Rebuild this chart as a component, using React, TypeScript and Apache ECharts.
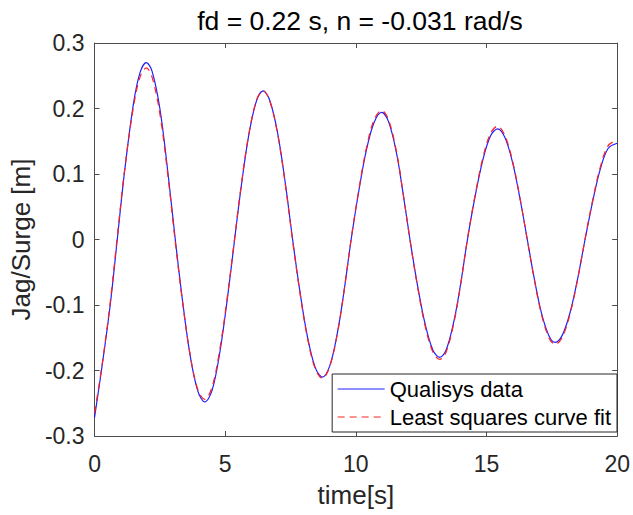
import React, { useEffect, useRef } from "react";
import * as echarts from "echarts";

const titleText = "fd = 0.22 s, n = -0.031 rad/s";
const xName = "time[s]";
const yName = "Jag/Surge [m]";
const seriesNames = ["Qualisys data", "Least squares curve fit"];

const time = [
  0, 0.3, 0.6, 0.87, 1.15, 1.5, 1.75, 1.98, 2.2, 2.5, 2.8, 3.09, 3.35, 3.65, 3.95, 4.22,
  4.5, 4.8, 5.1, 5.36, 5.6, 5.9, 6.2, 6.45, 6.7, 7.0, 7.3, 7.58, 7.85, 8.15, 8.45, 8.72,
  9.0, 9.3, 9.55, 9.82, 10.1, 10.4, 10.7, 10.99, 11.25, 11.55, 11.8, 12.07, 12.35, 12.65,
  12.95, 13.21, 13.45, 13.75, 14.0, 14.27, 14.55, 14.85, 15.15, 15.42, 15.7, 16.0, 16.3,
  16.56, 16.8, 17.1, 17.4, 17.63, 17.9, 18.2, 18.5, 18.77, 19.05, 19.35, 19.65, 20,
];

const qualisys = [
  -0.272, -0.19, -0.1, 0, 0.104, 0.21, 0.256, 0.27, 0.257, 0.2, 0.105, 0,
  -0.088, -0.175, -0.231, -0.248, -0.23, -0.171, -0.085, 0, 0.077, 0.159, 0.212, 0.227,
  0.213, 0.164, 0.086, 0, -0.077, -0.149, -0.196, -0.21, -0.193, -0.141, -0.078, 0,
  0.071, 0.136, 0.179, 0.194, 0.18, 0.133, 0.072, 0, -0.068, -0.129, -0.169, -0.18,
  -0.169, -0.125, -0.07, 0, 0.063, 0.12, 0.158, 0.169, 0.156, 0.117, 0.058, 0,
  -0.054, -0.112, -0.148, -0.157, -0.146, -0.111, -0.057, 0, 0.056, 0.107, 0.139, 0.147,
];

const curveFit = [
  -0.265, -0.188, -0.096, 0.004, 0.106, 0.205, 0.249, 0.262, 0.248, 0.192, 0.1, -0.004,
  -0.09, -0.174, -0.229, -0.244, -0.225, -0.166, -0.082, 0.002, 0.079, 0.16, 0.213, 0.227,
  0.212, 0.162, 0.084, -0.002, -0.079, -0.151, -0.198, -0.212, -0.194, -0.142, -0.078, 0.001,
  0.073, 0.139, 0.183, 0.197, 0.183, 0.135, 0.073, -0.001, -0.07, -0.132, -0.172, -0.183,
  -0.172, -0.127, -0.071, 0.001, 0.065, 0.123, 0.162, 0.173, 0.159, 0.119, 0.059, -0.001,
  -0.055, -0.114, -0.151, -0.16, -0.149, -0.113, -0.058, 0.001, 0.058, 0.11, 0.143, 0.152,
];

const FONT = "'Liberation Sans', Arial, sans-serif";
const AXIS_COLOR = "#4d4d4d";
const TEXT_COLOR = "#262626";

export default function App() {
  const ref = useRef<HTMLDivElement>(null);

  useEffect(() => {
    if (!ref.current) return;
    const chart = echarts.init(ref.current, undefined, { renderer: "svg" });
    const fmtY = (v: number) => String(Number(v.toFixed(1)));
    const tickCommon = { inside: true, length: 5, lineStyle: { color: AXIS_COLOR } };
    const lineCommon = { show: true, onZero: false, lineStyle: { color: AXIS_COLOR, width: 1 } };
    chart.setOption({
      animation: false,
      backgroundColor: "#ffffff",
      textStyle: { fontFamily: FONT },
      title: {
        text: titleText,
        left: 355,
        textAlign: "center",
        top: 2,
        textStyle: { fontFamily: FONT, fontSize: 26.5, fontWeight: "normal", color: "#000" },
      },
      grid: { left: 92, top: 43, right: 14, bottom: 79, containLabel: false },
      legend: {
        data: seriesNames,
        orient: "vertical",
        right: 16,
        top: 374,
        backgroundColor: "#ffffff",
        borderColor: "#262626",
        borderWidth: 1,
        borderRadius: 0,
        padding: [4, 6, 4, 5],
        itemWidth: 47,
        itemHeight: 14,
        itemGap: 6,
        itemStyle: { opacity: 0, borderWidth: 0 },
        lineStyle: { width: 1 },
        textStyle: { fontFamily: FONT, fontSize: 22, color: "#000" },
      },
      xAxis: [
        {
          type: "value",
          min: 0,
          max: 20,
          interval: 5,
          name: xName,
          nameLocation: "middle",
          nameGap: 46,
          nameTextStyle: { fontFamily: FONT, fontSize: 26, color: TEXT_COLOR },
          axisLine: lineCommon,
          axisTick: tickCommon,
          axisLabel: { fontFamily: FONT, fontSize: 23, color: TEXT_COLOR, margin: 16 },
          splitLine: { show: false },
        },
        {
          type: "value",
          position: "top",
          min: 0,
          max: 20,
          interval: 5,
          axisLine: lineCommon,
          axisTick: tickCommon,
          axisLabel: { show: false },
          splitLine: { show: false },
        },
      ],
      yAxis: [
        {
          type: "value",
          min: -0.3,
          max: 0.3,
          interval: 0.1,
          name: yName,
          nameLocation: "middle",
          nameGap: 45,
          nameTextStyle: { fontFamily: FONT, fontSize: 26, color: TEXT_COLOR },
          axisLine: lineCommon,
          axisTick: tickCommon,
          axisLabel: { fontFamily: FONT, fontSize: 23, color: TEXT_COLOR, margin: 10, formatter: fmtY },
          splitLine: { show: false },
        },
        {
          type: "value",
          position: "right",
          min: -0.3,
          max: 0.3,
          interval: 0.1,
          axisLine: lineCommon,
          axisTick: tickCommon,
          axisLabel: { show: false },
          splitLine: { show: false },
        },
      ],
      series: [
        {
          name: seriesNames[0],
          type: "line",
          data: time.map((t, i) => [t, qualisys[i]]),
          symbol: "none",
          smooth: 0.35,
          lineStyle: { color: "#1f1fff", width: 1.2 },
          itemStyle: { color: "#1f1fff" },
        },
        {
          name: seriesNames[1],
          type: "line",
          data: time.map((t, i) => [t, curveFit[i]]),
          symbol: "none",
          smooth: 0.35,
          lineStyle: { color: "#ff2020", width: 1.2, type: [7, 5] },
          itemStyle: { color: "#ff2020" },
        },
      ],
    });
    return () => chart.dispose();
  }, []);

  return (
    <div
      ref={ref}
      style={{ position: "absolute", left: 0, top: 0, width: 633, height: 515 }}
    />
  );
}
